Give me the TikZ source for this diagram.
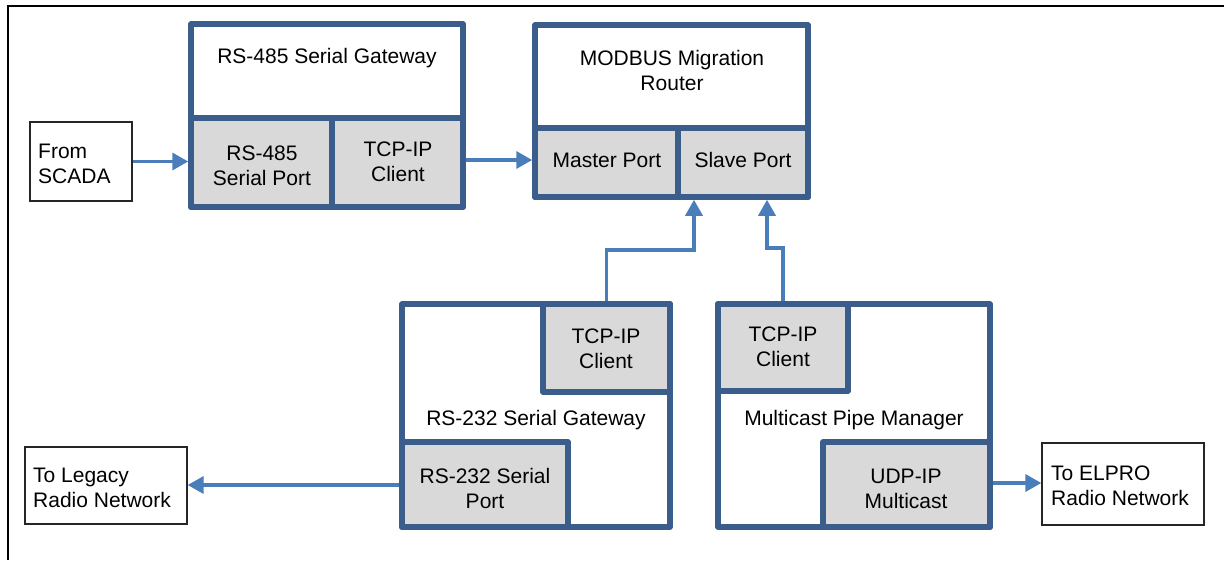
\documentclass[tikz,border=0pt]{standalone}
\usepackage{fontspec}
\setmainfont{Liberation Sans}
\usetikzlibrary{fit,arrows.meta}
\definecolor{boxblue}{HTML}{3A5D8B}
\definecolor{arrowblue}{HTML}{4A7EBB}
\definecolor{portgray}{HTML}{D9D9D9}
\begin{document}
\begin{tikzpicture}[x=1pt,y=-1pt,
  txt/.style={font=\fontsize{21}{25}\selectfont, inner sep=0pt, align=center},
  outerbox/.style={draw=boxblue, line width=5.5pt, fill=white, inner sep=0pt, line join=round},
  portbox/.style={draw=boxblue, line width=5.5pt, fill=portgray, inner sep=0pt, line join=round},
  extbox/.style={draw=black!85, line width=1.3pt, fill=white, inner sep=0pt},
  conn/.style={draw=arrowblue, line width=3.4pt},
  arr/.style={conn, -{Triangle[length=16pt,width=17pt]}}
]
\useasboundingbox (0,0) rectangle (1224,560);
% frame
\draw[line width=2.2pt] (7,6) -- (1224,6);
\draw[line width=2.2pt] (8,6) -- (8,560);

% external boxes
\node[extbox, fit={(30,122) (132,201)}] (scada) {};
\node[txt, align=left, anchor=west] (scadat) at (38,164) {From\\SCADA};
\node[extbox, fit={(25,447) (187,524)}] (legacy) {};
\node[txt, align=left, anchor=west] (legacyt) at (33,488) {To Legacy\\Radio Network};
\node[extbox, fit={(1042,443) (1204,525)}] (elpro) {};
\node[txt, align=left, anchor=west] (elprot) at (1051,486) {To ELPRO\\Radio Network};

% RS-485 gateway
\node[outerbox, fit={(191,24) (463,207)}] (g485) {};
\node[portbox, fit={(191,118) (332,207)}] (p485) {};
\node[portbox, fit={(332,118) (463,207)}] (tcp485) {};
\node[txt] (t485) at (327,58) {RS-485 Serial Gateway};
\node[txt] (p485t) at (262,166) {RS-485\\Serial Port};
\node[txt] (tcp485t) at (398,162) {TCP-IP\\Client};

% Router
\node[outerbox, fit={(535,25) (808,197)}] (router) {};
\node[portbox, fit={(535,128) (678,197)}] (master) {};
\node[portbox, fit={(678,128) (808,197)}] (slave) {};
\node[txt] (routert) at (672,70) {MODBUS Migration\\Router};
\node[txt] (mastert) at (607,160) {Master Port};
\node[txt] (slavet) at (743,160) {Slave Port};

% RS-232 gateway
\node[outerbox, fit={(402,304) (670,527)}] (g232) {};
\node[portbox, fit={(543,304) (670,392)}] (tcp232) {};
\node[portbox, fit={(402,442) (568,527)}] (p232) {};
\node[txt] (t232) at (536,420) {RS-232 Serial Gateway};
\node[txt] (tcp232t) at (606,349) {TCP-IP\\Client};
\node[txt] (p232t) at (485,488) {RS-232 Serial\\Port};

% Multicast pipe manager
\node[outerbox, fit={(718,304) (990,527)}] (mpm) {};
\node[portbox, fit={(718,304) (848,391)}] (mctcp) {};
\node[portbox, fit={(823,442) (990,527)}] (udp) {};
\node[txt] (mpmt) at (854,420) {Multicast Pipe Manager};
\node[txt] (mctcpt) at (783,347) {TCP-IP\\Client};
\node[txt] (udpt) at (906,489) {UDP-IP\\Multicast};

% connectors
\draw[arr] (scada.east) -- (scada.east -| p485.west);
\draw[arr] (tcp485.east |- 0,160) -- (master.west |- 0,160);
\coordinate (b1) at (694,250);
\coordinate (b2) at (767,248);
\draw[arr] (tcp232.north) |- (b1) -- (b1 |- slave.south);
\draw[arr] (mctcp.north) |- (b2) -- (b2 |- slave.south);
\draw[arr] (p232.west |- 0,485) -- (legacy.east |- 0,485);
\draw[arr] (udp.east |- 0,483) -- (elpro.west |- 0,483);
\end{tikzpicture}
\end{document}
